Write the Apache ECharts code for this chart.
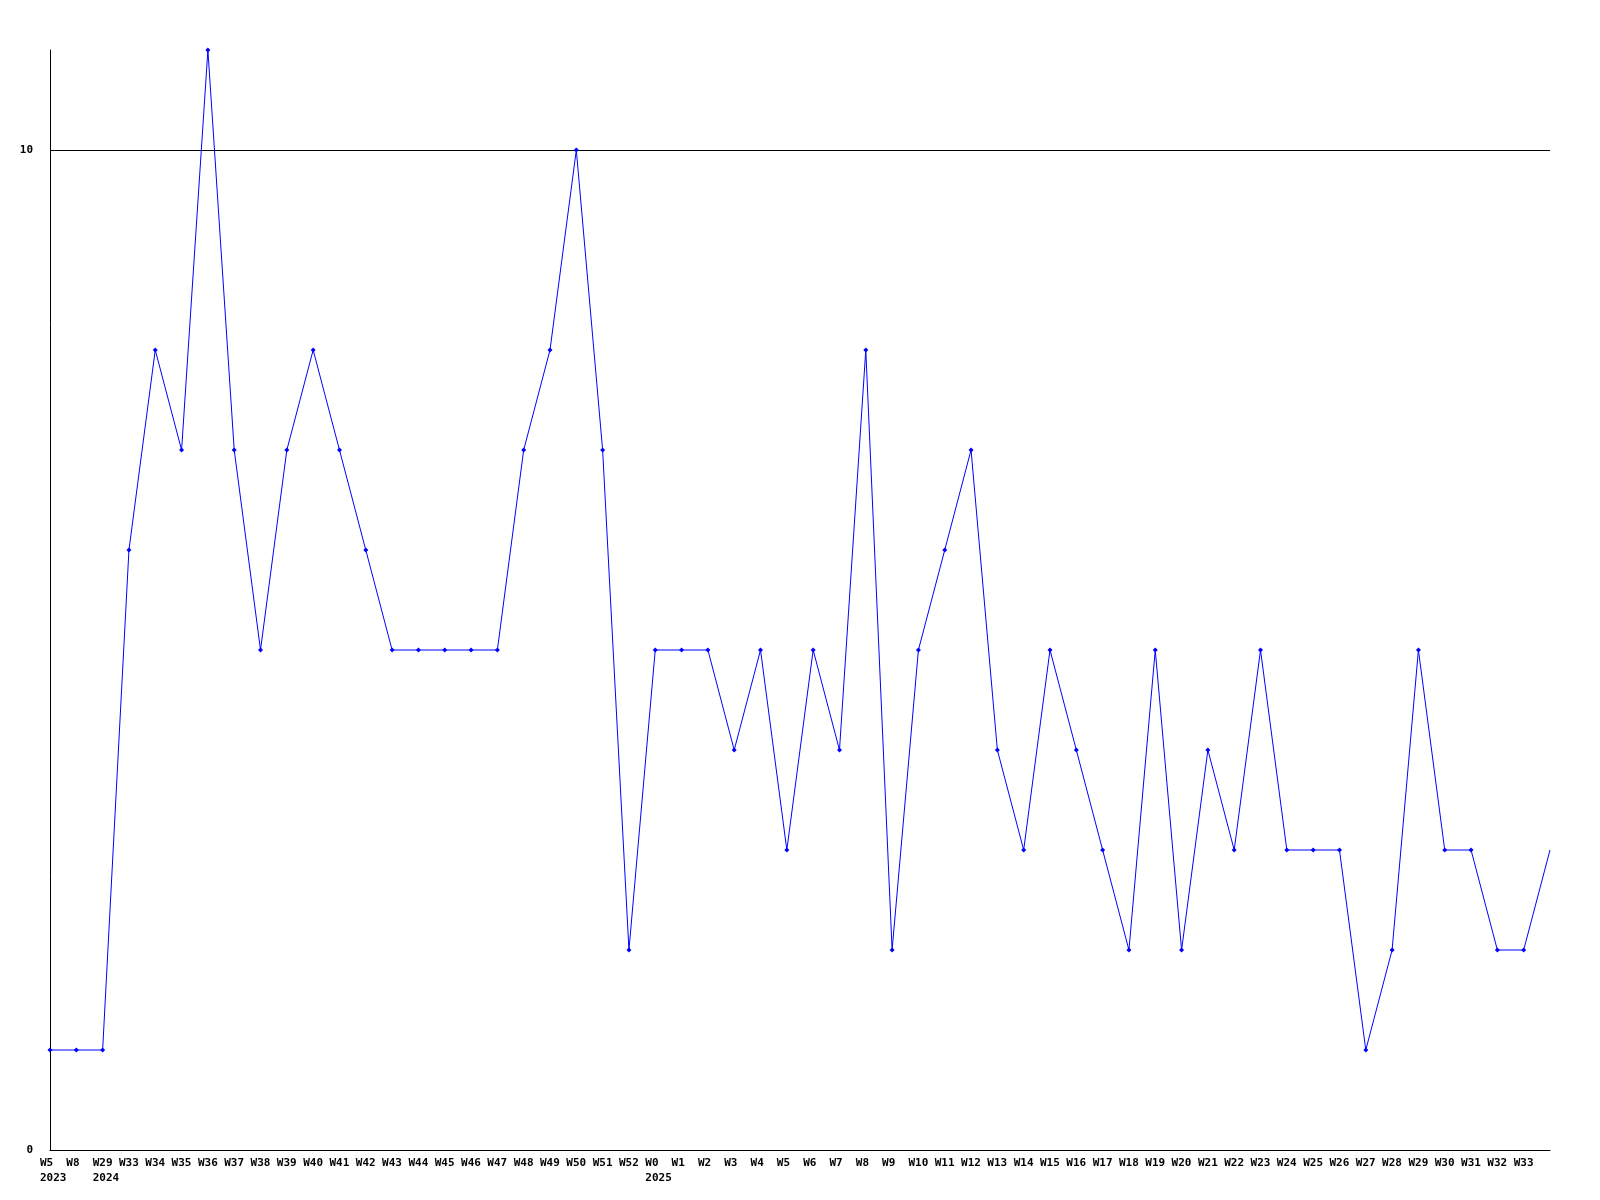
<!DOCTYPE html>
<html>
<head>
<meta charset="utf-8">
<script src="https://cdn.jsdelivr.net/npm/echarts@6/dist/echarts.min.js"></script>
<style>
html,body{margin:0;padding:0;background:#fff;}
#chart{width:1600px;height:1200px;}
</style>
</head>
<body>
<div id="chart"></div>
<script>
var weeks = ["W5","W8","W29","W33","W34","W35","W36","W37","W38","W39","W40","W41","W42","W43","W44","W45","W46","W47","W48","W49","W50","W51","W52",
  "W0","W1","W2","W3","W4","W5","W6","W7","W8","W9","W10","W11","W12","W13","W14","W15","W16","W17","W18","W19","W20","W21","W22","W23","W24","W25","W26","W27","W28","W29","W30","W31","W32","W33","W34"];
var years = ["2023","","2024","","","","","","","","","","","","","","","","","","","","",
  "2025","","","","","","","","","","","","","","","","","","","","","","","","","","","","","","","","","",""];
var values = [1,1,1,6,8,7,11,7,5,7,8,7,6,5,5,5,5,5,7,8,10,7,2,
  5,5,5,4,5,3,5,4,8,2,5,6,7,4,3,5,4,3,2,5,2,4,3,5,3,3,3,1,2,5,3,3,2,2,3];
var yTicks = [0,10];

var cats = weeks.map(function(w,i){ return i; });
var data = values.map(function(v,i){
  return i === values.length-1 ? {value:v, symbol:'none'} : v;
});

var chart = echarts.init(document.getElementById('chart'), null, {renderer:'canvas'});
chart.setOption({
  animation:false,
  backgroundColor:'#fff',
  grid:{left:50,right:50,top:50,bottom:50,containLabel:false},
  xAxis:{
    type:'category',
    data:cats,
    boundaryGap:false,
    axisLine:{lineStyle:{color:'#000',width:1}},
    axisTick:{show:false},
    splitLine:{show:false},
    axisLabel:{
      interval:0,
      margin:6,
      formatter:function(v,i){
        if (i === weeks.length-1) return '';
        var s = '{a|' + weeks[i] + '}';
        if (years[i]) s += '\n{a|' + years[i] + '}';
        return s;
      },
      rich:{a:{width:20,align:'left',fontFamily:'DejaVu Sans Mono',fontWeight:'bold',fontSize:11,color:'#000',lineHeight:15}}
    }
  },
  yAxis:{
    type:'value',
    min:0,max:11,interval:10,
    axisLine:{show:true,lineStyle:{color:'#000',width:1}},
    axisTick:{show:false},
    splitLine:{show:true,lineStyle:{color:['#000','#000','rgba(0,0,0,0)'],width:1}},
    axisLabel:{
      margin:17,
      showMaxLabel:false,
      formatter:function(v){ return yTicks.indexOf(v) >= 0 ? String(v) : ''; },
      fontFamily:'DejaVu Sans Mono',fontWeight:'bold',fontSize:11,color:'#000'
    }
  },
  series:[{
    type:'line',
    data:data,
    symbol:'diamond',
    symbolSize:5,
    showAllSymbol:true,
    lineStyle:{color:'#0000ff',width:1},
    itemStyle:{color:'#0000ff'}
  }]
});
</script>
</body>
</html>
